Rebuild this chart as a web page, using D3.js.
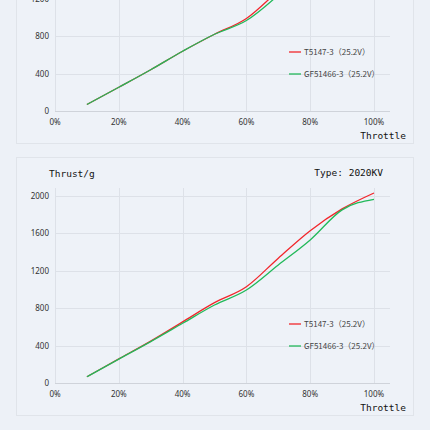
<!doctype html>
<html lang="en">
  <head>
    <meta charset="UTF-8" />
    <title>Thrust vs Throttle</title>
    <script src="https://d3js.org/d3.v7.min.js"></script>
    <style>
      body {
        margin: 0;
        padding: 0;
        background: #edf1f7;
      }
      .tick-label {
        font-family: 'Noto Sans', Arial, sans-serif;
        font-size: 8px;
        fill: #333;
      }
      .mono {
        font-family: 'DejaVu Sans Mono', monospace;
        font-size: 9.5px;
        fill: #111;
      }
      .legend {
        font-family: 'Noto Sans CJK SC', 'Noto Sans', sans-serif;
        font-size: 8px;
        fill: #444;
      }
    </style>
  </head>
  <body>
    <svg id="chart" width="430" height="430"></svg>

    <script>
      // throttle positions (%) and thrust (g)
      const throttleTop = [10, 20, 30, 40, 50, 60, 70, 80, 90, 100];
      const t5147Top = [72, 256, 443, 641, 822, 990, 1290, 1630, 1900, 2080];
      const gf51466Top = [72, 256, 443, 641, 822, 968, 1240, 1580, 1870, 2050];

      const throttleBottom = [10, 20, 30, 40, 50, 60, 70, 80, 90, 100];
      const t5147Bottom = [70, 260, 450, 655, 860, 1030, 1335, 1628, 1860, 2030];
      const gf51466Bottom = [70, 258, 445, 640, 835, 995, 1262, 1529, 1850, 1963];

      const xTicks = [0, 20, 40, 60, 80, 100];
      const yTicks = [0, 400, 800, 1200, 1600, 2000];
      const seriesNames = ['T5147-3（25.2V）', 'GF51466-3（25.2V）'];
      const seriesColors = ['#f2262b', '#22b95a'];
      const typeLabel = 'Type: 2020KV';

      const svg = d3.select('#chart');

      function drawPanel(offsetY, xs, redVals, greenVals, showType) {
        const g = svg.append('g').attr('transform', `translate(0,${offsetY})`);

        // card
        g.append('rect')
          .attr('x', 16.5)
          .attr('y', 157.5)
          .attr('width', 397)
          .attr('height', 258)
          .attr('fill', '#eef2f8')
          .attr('stroke', '#e0e4ea');

        const x = d3.scaleLinear().domain([0, 100]).range([55, 374]);
        const y = d3.scaleLinear().domain([0, 2080]).range([383.3, 188.3]);

        // grid
        g.selectAll('.hgrid')
          .data(yTicks.slice(1))
          .enter()
          .append('line')
          .attr('x1', 55)
          .attr('x2', 390)
          .attr('y1', (d) => Math.round(y(d)) + 0.5)
          .attr('y2', (d) => Math.round(y(d)) + 0.5)
          .attr('stroke', '#dde1e8');

        g.selectAll('.vgrid')
          .data(xTicks)
          .enter()
          .append('line')
          .attr('x1', (d) => Math.round(x(d)) + 0.5)
          .attr('x2', (d) => Math.round(x(d)) + 0.5)
          .attr('y1', 188)
          .attr('y2', y(0))
          .attr('stroke', '#dde1e8');

        // x axis line
        g.append('line')
          .attr('x1', 55)
          .attr('x2', 390)
          .attr('y1', Math.round(y(0)) + 0.5)
          .attr('y2', Math.round(y(0)) + 0.5)
          .attr('stroke', '#cfd3da');

        // tick labels
        g.selectAll('.ylab')
          .data(yTicks)
          .enter()
          .append('text')
          .attr('class', 'tick-label')
          .attr('x', 49)
          .attr('y', (d) => y(d))
          .attr('dy', '0.35em')
          .attr('text-anchor', 'end')
          .text((d) => d);

        g.selectAll('.xlab')
          .data(xTicks)
          .enter()
          .append('text')
          .attr('class', 'tick-label')
          .attr('x', (d) => x(d))
          .attr('y', 394)
          .attr('dy', '0.35em')
          .attr('text-anchor', 'middle')
          .text((d) => d + '%');

        // axis titles
        g.append('text')
          .attr('class', 'mono')
          .attr('x', 49)
          .attr('y', 177)
          .text('Thrust/g');

        g.append('text')
          .attr('class', 'mono')
          .attr('x', 406)
          .attr('y', 411)
          .attr('text-anchor', 'end')
          .text('Throttle');

        if (showType) {
          g.append('text')
            .attr('class', 'mono')
            .attr('x', 383)
            .attr('y', 176)
            .attr('text-anchor', 'end')
            .text(typeLabel);
        }

        // lines
        const line = d3
          .line()
          .x((d) => x(d[0]))
          .y((d) => y(d[1]))
          .curve(d3.curveMonotoneX);

        [redVals, greenVals].forEach(function (vals, i) {
          g.append('path')
            .datum(xs.map((t, k) => [t, vals[k]]))
            .attr('fill', 'none')
            .attr('stroke', seriesColors[i])
            .attr('stroke-width', 1.3)
            .attr('d', line);
        });

        // legend
        seriesNames.forEach(function (name, i) {
          const ly = 324 + i * 22;
          g.append('line')
            .attr('x1', 289)
            .attr('x2', 301)
            .attr('y1', ly)
            .attr('y2', ly)
            .attr('stroke', seriesColors[i])
            .attr('stroke-width', 1.3);
          g.append('text')
            .attr('class', 'legend')
            .attr('x', 304)
            .attr('y', ly)
            .attr('dy', '0.35em')
            .text(name);
        });
      }

      drawPanel(-272, throttleTop, t5147Top, gf51466Top, true);
      drawPanel(0, throttleBottom, t5147Bottom, gf51466Bottom, true);
    </script>
  </body>
</html>
